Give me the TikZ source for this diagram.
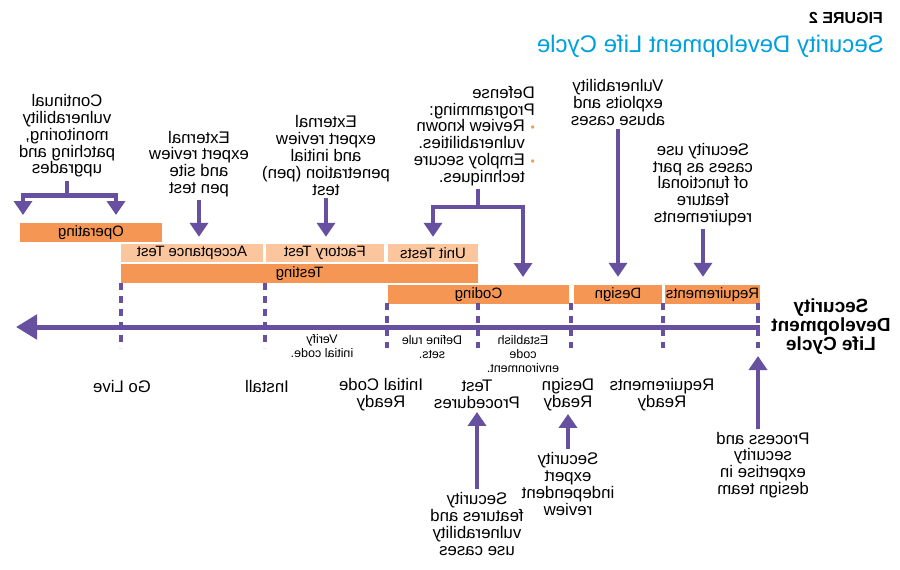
\documentclass[tikz,border=0pt]{standalone}
\usepackage{fontspec}
\setmainfont{Liberation Sans}
\usepackage{tikz}
\usetikzlibrary{arrows.meta,positioning}

\definecolor{sdlpurple}{RGB}{103,80,160}
\definecolor{sdlorange}{RGB}{246,150,85}
\definecolor{sdllight}{RGB}{251,198,157}
\definecolor{sdlcyan}{RGB}{0,160,222}
\newcommand\bul{\makebox[10pt][l]{\textcolor{sdlorange}{\fontsize{12}{12}\selectfont\textbullet}}}

\begin{document}
\begin{tikzpicture}[x=1pt,y=-1pt,
  mir/.style={xscale=-1},
  txt/.style={mir,align=center,inner sep=3pt,font=\fontsize{16.8}{16.8}\selectfont},
  small/.style={mir,align=center,inner sep=1pt,font=\fontsize{12.5}{14}\selectfont},
  darkbar/.style={mir,fill=sdlorange,inner sep=0pt,minimum height=19pt,font=\fontsize{15}{15}\selectfont},
  lightbar/.style={darkbar,fill=sdllight,minimum height=18pt},
  stem/.style={draw=sdlpurple,line width=4.5pt},
  arr/.style={stem,-{Triangle[length=14pt,width=18pt]}},
  tick/.style={draw=sdlpurple,line width=4pt,dash pattern=on 7pt off 6pt}]
  \path[fill=white,use as bounding box] (0,0) rectangle (900,570);

  % title
  \node[mir,anchor=west,inner sep=0pt,font=\bfseries\fontsize{16}{16}\selectfont] (fig) at (883,18) {FIGURE 2};
  \node[mir,anchor=west,inner sep=0pt,text=sdlcyan,font=\fontsize{24}{24}\selectfont] (title) at (884,46) {Security Development Life Cycle};

  % phases
  \node[darkbar,minimum width=142pt] (op) at (91,232.5) {Operating};
  \node[lightbar,minimum width=142pt] (acc) at (192,253) {Acceptance Test};
  \node[lightbar,minimum width=118pt] (fac) at (325,253) {Factory Test};
  \node[lightbar,minimum width=90pt] (unit) at (433,253) {Unit Tests};
  \node[darkbar,minimum width=357pt] (testing) at (299.5,273.5) {Testing};
  \node[darkbar,minimum width=181pt] (coding) at (478.5,294.5) {Coding};
  \node[darkbar,minimum width=88pt] (design) at (618,294.5) {Design};
  \node[darkbar,minimum width=95pt] (req) at (712.5,294.5) {Requirements};

  % time line
  \coordinate (axR) at (760,327);
  \coordinate (axL) at (16,327);
  \draw[draw=sdlpurple,line width=5pt,-{Triangle[length=21pt,width=24pt]}] (axR) -- (axL);
  \foreach \x/\t in {121/283,265/283,387/303,478/303,571/303,663/303,758/303}
    \draw[tick] (\x,\t) -- (\x,348);
  \coordinate (sdlEnd) at (758,348);
  \node[mir,align=center,inner sep=0pt,font=\bfseries\fontsize{19}{19}\selectfont] (sdl) at (831,327) {Security\\Development\\Life Cycle};

  \node[small] (verify) at (322,346) {Verify\\initial code.};
  \node[small] (defrule) at (432,347) {Define rule\\sets.};
  \node[small] (estab) at (523,354) {Establish\\code\\environment.};

  % milestones
  \node[txt] (golive) at (122,386) {Go Live};
  \node[txt] (install) at (267,386) {Install};
  \node[txt] (initcode) at (381,394.5) {Initial Code\\Ready};
  \node[txt] (testproc) at (477,394.5) {Test\\Procedures};
  \node[txt] (desready) at (568,394.5) {Design\\Ready};
  \node[txt] (reqready) at (662,394.5) {Requirements\\Ready};

  % inputs above
  \node[txt] (cont) at (67,136) {Continual\\vulnerability\\monitoring,\\patching and\\upgrades};
  \node[txt] (extsite) at (199,164) {External\\expert review\\and site\\pen test};
  \node[txt] (extinit) at (326,155.5) {External\\expert review\\and initial\\penetration (pen)\\test};
  \node[txt,align=left,anchor=west] (defense) at (538,136) {Defense\\Programming:\\\bul Review known\\\hphantom{\bul}vulnerabilities.\\\bul Employ secure\\\hphantom{\bul}techniques.};
  \node[txt] (vuln) at (618,102.5) {Vulnerability\\exploits and\\abuse cases};
  \node[txt] (usecase) at (703,184.5) {Security use\\cases as part\\of functional\\feature\\requirements};

  % inputs below
  \node[txt] (secfeat) at (477,524) {Security\\features and\\vulnerability\\use cases};
  \node[txt] (secexp) at (568,484) {Security\\expert\\independent\\review};
  \node[txt] (process) at (763,465) {Process and\\security\\expertise in\\design team};

  % arrows
  \coordinate (opL) at (23,215);
  \coordinate (opR) at (116,215);
  \draw[stem] (cont.south) -- ++(0,15) coordinate (fork1);
  \draw[arr] (fork1) -| (opL);
  \draw[arr] (fork1) -| (opR);
  \draw[arr,shorten >=7pt] (extsite.south) -- (extsite.south |- acc.north);
  \draw[arr,shorten >=7pt] (extinit.south) -- (extinit.south |- fac.north);
  \coordinate (fork2) at (478,207);
  \coordinate (codeIn) at (523,285);
  \draw[stem] (defense.south -| fork2) -- (fork2);
  \draw[arr,shorten >=7pt] (fork2) -| (unit.north);
  \draw[arr,shorten >=8pt] (fork2) -| (codeIn);
  \draw[arr,shorten >=8pt] (vuln.south) -- (vuln.south |- design.north);
  \draw[arr,shorten >=8pt] (usecase.south) -- (usecase.south |- req.north);
  \draw[arr] (secfeat.north) -- (secfeat.north |- testproc.south);
  \draw[arr] (secexp.north) -- (secexp.north |- desready.south);
  \draw[arr,shorten >=8pt] (sdlEnd |- process.north) -- (sdlEnd);
\end{tikzpicture}
\end{document}
